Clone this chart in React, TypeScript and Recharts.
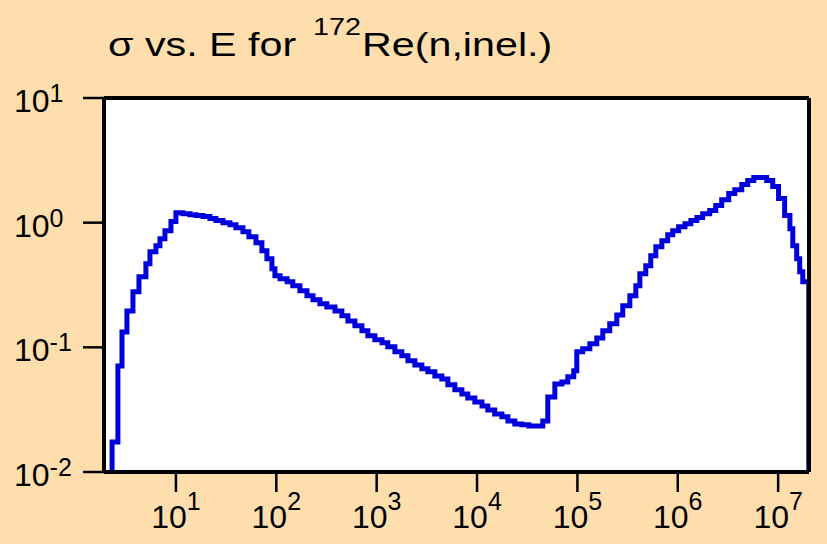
import React from "react";
import { LineChart, Line, XAxis, YAxis, CartesianGrid } from "recharts";

// incident energy (eV), left edge of each step
const energies = [
  2.25, 2.31, 2.64, 2.9, 3.25, 3.73, 4.28, 5.02, 5.51, 6.32,
  6.93, 7.77, 8.92, 10.0, 11.7, 13.8, 15.8, 18.6, 21.8, 25.0,
  29.4, 34.5, 39.6, 46.5, 53.3, 62.7, 71.9, 80.6, 90.4, 96.9,
  109, 128, 146, 172, 202, 232, 272, 319, 384, 450,
  517, 607, 713, 817, 960, 1130, 1290, 1520, 1780, 2050,
  2400, 2820, 3240, 3800, 4460, 5120, 6010, 7060, 8090, 9510,
  11200, 12800, 15000, 17700, 20300, 23800, 27900, 32800, 38600, 45200,
  50700, 59600, 70000, 80200, 92000, 98600, 113000, 133000, 156000, 179000,
  210000, 247000, 283000, 333000, 382000, 419000, 480000, 538000, 604000, 694000,
  794000, 891000, 1.02e6, 1.18e6, 1.35e6, 1.55e6, 1.77e6, 2.08e6, 2.39e6, 2.74e6,
  3.22e6, 3.7e6, 4.34e6, 4.98e6, 5.72e6, 7.69e6, 8.83e6, 1.01e7, 1.16e7, 1.31e7,
  1.4e7, 1.53e7, 1.64e7, 1.76e7, 2.02e7,
];

// cross section (b)
const sigma = [
  0.01, 0.0174, 0.071, 0.133, 0.196, 0.279, 0.368, 0.469, 0.585, 0.653,
  0.744, 0.862, 1.02, 1.2, 1.18, 1.16, 1.14, 1.12, 1.08, 1.04,
  1.0, 0.964, 0.912, 0.847, 0.772, 0.691, 0.596, 0.514, 0.427, 0.375,
  0.355, 0.336, 0.312, 0.284, 0.259, 0.241, 0.224, 0.211, 0.196, 0.179,
  0.163, 0.149, 0.136, 0.124, 0.115, 0.109, 0.101, 0.092, 0.0855, 0.078,
  0.0723, 0.0672, 0.0636, 0.059, 0.0558, 0.05, 0.0456, 0.0423, 0.0393, 0.0365,
  0.0339, 0.0315, 0.0292, 0.0277, 0.0257, 0.0243, 0.0239, 0.0234, 0.0234, 0.0257,
  0.04, 0.0509, 0.0528, 0.058, 0.0648, 0.092, 0.0973, 0.1067, 0.119, 0.136,
  0.1545, 0.182, 0.2155, 0.259, 0.312, 0.389, 0.452, 0.543, 0.641, 0.717,
  0.801, 0.862, 0.929, 0.982, 1.04, 1.1, 1.18, 1.25, 1.37, 1.53,
  1.71, 1.84, 2.02, 2.18, 2.3, 2.18, 1.95, 1.56, 1.14, 0.895,
  0.653, 0.514, 0.404, 0.336, 0.01,
];

const xTicks = [1e1, 1e2, 1e3, 1e4, 1e5, 1e6, 1e7];
const yTicks = [0.01, 0.1, 1, 10];

const FONT = "'Liberation Sans', Arial, Helvetica, sans-serif";

const data = energies.map((e, i) => ({ e, s: sigma[i] }));

function XTick({ x, payload }: any) {
  const exp = Math.round(Math.log10(payload.value));
  return (
    <text x={x} y={528} textAnchor="middle" fontFamily={FONT} fontSize={32} fill="#000">
      10
      <tspan dy={-18} fontSize={25}>{exp}</tspan>
    </text>
  );
}

function YTick({ y, payload }: any) {
  const exp = Math.round(Math.log10(payload.value));
  return (
    <text x={14} y={y + 14} textAnchor="start" fontFamily={FONT} fontSize={32} fill="#000">
      10
      <tspan dy={-10} fontSize={25}>{exp}</tspan>
    </text>
  );
}

export default function App() {
  const axisLine = { stroke: "#000", strokeWidth: 4 };
  const tickLine = { stroke: "#000", strokeWidth: 2.5 };
  return (
    <div style={{ position: "absolute", left: 0, top: 0, width: 827, height: 544, background: "#FFDEAD" }}>
      <LineChart width={827} height={544} data={data} margin={{ top: 78, right: 0, bottom: 0, left: 0 }}>
        <CartesianGrid fill="#fff" horizontal={false} vertical={false} />
        <XAxis
          dataKey="e"
          type="number"
          scale="log"
          domain={[1.92, 2.03e7]}
          ticks={xTicks}
          allowDataOverflow
          height={72}
          tickSize={20}
          axisLine={axisLine}
          tickLine={tickLine}
          tick={<XTick />}
        />
        <XAxis
          xAxisId="top"
          orientation="top"
          dataKey="e"
          type="number"
          scale="log"
          domain={[1.92, 2.03e7]}
          ticks={xTicks}
          allowDataOverflow
          height={20}
          tickSize={20}
          axisLine={axisLine}
          tickLine={tickLine}
          tick={false}
        />
        <YAxis
          type="number"
          scale="log"
          domain={[0.01, 10]}
          ticks={yTicks}
          allowDataOverflow
          width={104}
          tickSize={21}
          axisLine={axisLine}
          tickLine={tickLine}
          tick={<YTick />}
        />
        <YAxis
          yAxisId="right"
          orientation="right"
          type="number"
          scale="log"
          domain={[0.01, 10]}
          ticks={yTicks}
          allowDataOverflow
          width={18}
          tickSize={18}
          axisLine={axisLine}
          tickLine={tickLine}
          tick={false}
        />
        <Line
          type="stepAfter"
          dataKey="s"
          stroke="#0000dd"
          strokeWidth={5}
          dot={false}
          isAnimationActive={false}
        />
      </LineChart>
      <svg width={827} height={80} style={{ position: "absolute", left: 0, top: 0, pointerEvents: "none" }}>
        <g fontFamily={FONT} fill="#000">
          <text transform="translate(108,56) scale(1.25,1)" fontSize={33}>σ vs. E for</text>
          <text transform="translate(313,35) scale(1.25,1)" fontSize={23}>172</text>
          <text transform="translate(362,56) scale(1.25,1)" fontSize={33}>Re(n,inel.)</text>
        </g>
      </svg>
    </div>
  );
}
